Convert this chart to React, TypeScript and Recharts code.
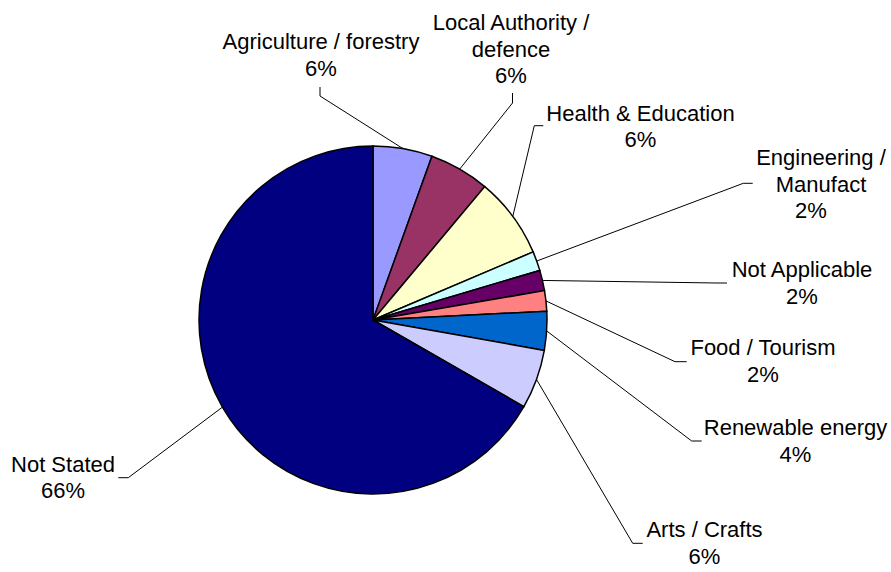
import { PieChart, Pie, Cell } from 'recharts';

const categories = [
  'Agriculture / forestry',
  'Local Authority / defence',
  'Health & Education',
  'Engineering / Manufact',
  'Not Applicable',
  'Food / Tourism',
  'Renewable energy',
  'Arts / Crafts',
  'Not Stated',
];
// share of respondents
const shares = [5.5, 5.6, 7.5, 1.8, 1.9, 1.9, 3.6, 5.5, 66.7];
// percentages as printed on the chart
const percentLabels = ['6%', '6%', '6%', '2%', '2%', '2%', '4%', '6%', '66%'];
const nameLines = [
  ['Agriculture / forestry'],
  ['Local Authority /', 'defence'],
  ['Health & Education'],
  ['Engineering /', 'Manufact'],
  ['Not Applicable'],
  ['Food / Tourism'],
  ['Renewable energy'],
  ['Arts / Crafts'],
  ['Not Stated'],
];

const COLORS = [
  '#9999FF',
  '#993366',
  '#FFFFCC',
  '#CCFFFF',
  '#660066',
  '#FF8080',
  '#0066CC',
  '#CCCCFF',
  '#000080',
];

// label placement relative to the pie centre (hand-placed, like the original)
const LABEL_LAYOUT = [
  { elbow: [-53, -224], end: [-53, -233], x: -52, y: -271 },
  { elbow: [139.5, -217], end: [139.5, -227], x: 138, y: -290 },
  { elbow: [161.3, -194.3], end: [170.3, -194.3], x: 267.5, y: -199.3 },
  { elbow: [370.3, -136.7], end: [379.7, -136.7], x: 448, y: -155, lastDx: -10 },
  { elbow: [344, -37], end: [354, -37], x: 429, y: -42.7 },
  { elbow: [302, 41.7], end: [313.7, 41.7], x: 390, y: 35 },
  { elbow: [318.7, 121], end: [328.7, 121], x: 422.5, y: 115 },
  { elbow: [259.7, 223.3], end: [269.7, 223.3], x: 331.5, y: 217.3 },
  { elbow: [-244.7, 157.7], end: [-254.7, 157.7], x: -310, y: 151.7 },
];

const LINE_HEIGHT = 26.5;
const RADIAN = Math.PI / 180;

const data = categories.map((name, i) => ({ name, value: shares[i] }));

function renderLabel(props: any) {
  const { cx, cy, midAngle, outerRadius, index } = props;
  const layout = LABEL_LAYOUT[index];
  const ex = cx + outerRadius * Math.cos(-midAngle * RADIAN);
  const ey = cy + outerRadius * Math.sin(-midAngle * RADIAN);
  const pts = [
    [ex, ey],
    [cx + layout.elbow[0], cy + layout.elbow[1]],
    [cx + layout.end[0], cy + layout.end[1]],
  ];
  const lines = [...nameLines[index], percentLabels[index]];
  return (
    <g key={`label-${index}`}>
      <polyline
        points={pts.map((p) => p.join(',')).join(' ')}
        fill="none"
        stroke="#000"
        strokeWidth={1}
      />
      {lines.map((line, j) => (
        <text
          key={j}
          x={cx + layout.x + (j === lines.length - 1 && layout.lastDx ? layout.lastDx : 0)}
          y={cy + layout.y + j * LINE_HEIGHT}
          textAnchor="middle"
          fill="#000"
          fontSize={22}
          fontFamily="'Liberation Sans', Arial, sans-serif"
        >
          {line}
        </text>
      ))}
    </g>
  );
}

export default function App() {
  return (
    <div style={{ width: 891, height: 572, background: '#fff' }}>
      <style>{'body{margin:0}'}</style>
      <PieChart width={891} height={572} margin={{ top: 0, right: 0, bottom: 0, left: 0 }}>
        <Pie
          data={data}
          dataKey="value"
          nameKey="name"
          cx={373}
          cy={320}
          outerRadius={174}
          startAngle={90}
          endAngle={-270}
          stroke="#000"
          strokeWidth={1.5}
          label={renderLabel}
          labelLine={false}
          isAnimationActive={false}
        >
          {data.map((_entry, index) => (
            <Cell key={index} fill={COLORS[index]} />
          ))}
        </Pie>
      </PieChart>
    </div>
  );
}
